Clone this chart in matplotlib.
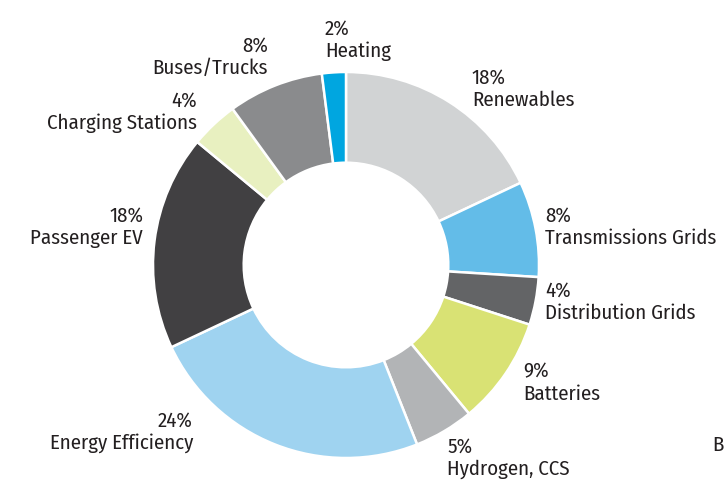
import matplotlib
matplotlib.use("Agg")
import matplotlib.pyplot as plt

plt.rcParams['font.family'] = ['Fira Sans Condensed', 'Roboto Condensed', 'DejaVu Sans']

categories = ['Renewables', 'Transmissions Grids', 'Distribution Grids', 'Batteries',
              'Hydrogen, CCS', 'Energy Efficiency', 'Passenger EV', 'Charging Stations',
              'Buses/Trucks', 'Heating']
shares = [18, 8, 4, 9, 5, 24, 18, 4, 8, 2]
colors = ['#d1d3d4', '#63bce8', '#636466', '#d9e274', '#b2b4b6',
          '#9fd3f0', '#414042', '#e8f0c0', '#8a8b8d', '#00a6e0']

# label anchor in pixels (x, y-middle, alignment)
label_pos = [(472, 89, 'left'), (545, 227, 'left'), (545, 302, 'left'), (523, 383, 'left'),
             (447, 458, 'left'), (193, 432, 'right'), (143, 227, 'right'),
             (197, 112, 'right'), (268, 57, 'right'), (325, 40, 'left')]

W, H = 725, 487
fig = plt.figure(figsize=(W / 100, H / 100), dpi=100)
cx, cy, r = 346, 265, 193
ax = fig.add_axes([(cx - r) / W, (H - cy - r) / H, 2 * r / W, 2 * r / H])
ax.pie(shares, colors=colors, startangle=90, counterclock=False, radius=1,
       wedgeprops=dict(width=0.47, edgecolor='white', linewidth=1.8))
ax.set_xlim(-1, 1)
ax.set_ylim(-1, 1)
ax.axis('off')

for name, val, (px, py, ha) in zip(categories, shares, label_pos):
    fig.text(px / W, 1 - py / H, f"{val}%\n{name}", ha=ha, va='center',
             multialignment=ha, fontsize=15, fontweight='normal',
             color='#231f20', linespacing=1.2)

# cut-off text at right edge
fig.text(712 / W, 1 - 445 / H, "B", ha='left', va='center', fontsize=15,
         fontweight='normal', color='#231f20')

fig.savefig("out.png", dpi=100)
